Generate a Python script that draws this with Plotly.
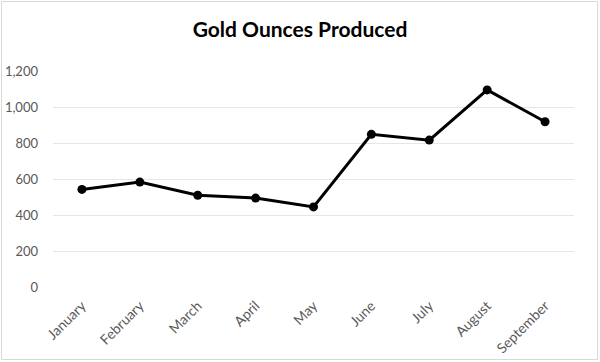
import plotly.graph_objects as go

months = ["January", "February", "March", "April", "May", "June", "July", "August", "September"]
ounces = [542, 583, 510, 494, 445, 848, 816, 1095, 918]
y_ticks = [0, 200, 400, 600, 800, 1000, 1200]
y_tick_labels = ["0", "200", "400", "600", "800", "1,000", "1,200"]

W, H = 600, 362
ML, MR, MT, MB = 53, 26, 71, 75

fig = go.Figure(go.Scatter(
    x=months, y=ounces, mode="lines+markers",
    line=dict(color="black", width=3),
    marker=dict(color="black", size=9),
))

pw = W - ML - MR
ph = H - MT - MB
# light frame around the whole chart (paper coordinates)
fig.add_shape(type="rect", xref="paper", yref="paper",
              x0=-(ML - 1.5) / pw, x1=1 + (MR - 2.5) / pw,
              y0=-(MB - 2.5) / ph, y1=1 + (MT - 1.5) / ph,
              line=dict(color="#d9d9d9", width=1), layer="below")

fig.update_layout(
    width=W, height=H,
    margin=dict(l=ML, r=MR, t=MT, b=MB, autoexpand=False),
    paper_bgcolor="white", plot_bgcolor="white",
    showlegend=False,
    title=dict(text="<b>Gold Ounces Produced</b>", x=0.5, xanchor="center",
               y=1 - 30 / H, yanchor="middle",
               font=dict(family="Lato", size=21, color="black")),
    font=dict(family="Lato", size=13, color="#595959"),
)
fig.update_xaxes(showgrid=False, showline=False, tickangle=-45,
                 ticks="", ticklabelstandoff=7, automargin=False,
                 tickfont=dict(size=14),
                 range=[-0.5, len(months) - 0.5])
fig.update_yaxes(range=[0, 1200], tickvals=y_ticks, ticktext=y_tick_labels,
                 showgrid=True, gridcolor="#e6e6e6", gridwidth=1,
                 zeroline=False, showline=False, ticks="", automargin=False,
                 ticklabelstandoff=14)

fig.write_html("out.html", config={"displayModeBar": False},
               post_script="document.body.style.margin='0';document.body.style.overflow='hidden';")
